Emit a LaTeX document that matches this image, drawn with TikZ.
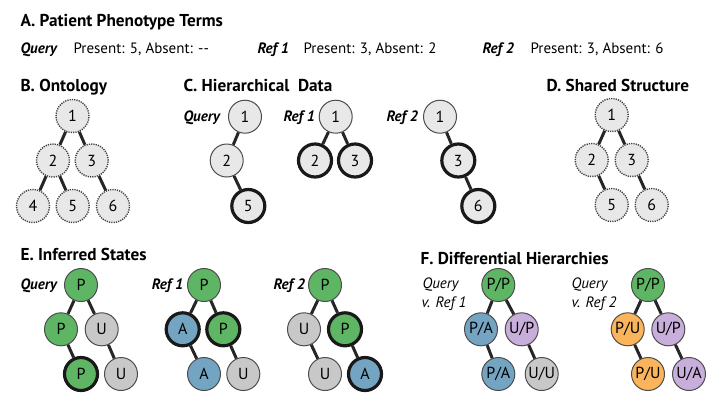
\documentclass[tikz,border=0pt]{standalone}
\usepackage{fontspec}
\setmainfont{PT Sans}
\usepackage{tikz}

\definecolor{presgreen}{RGB}{94,182,100}
\definecolor{absblue}{RGB}{115,164,194}
\definecolor{unkgray}{RGB}{200,200,200}
\definecolor{upurple}{RGB}{200,174,218}
\definecolor{puorange}{RGB}{249,180,92}
\definecolor{nodegray}{RGB}{232,232,232}

\tikzset{
  title/.style={anchor=base west, font=\fontsize{17.2}{19}\selectfont\bfseries},
  txt/.style={anchor=base west, font=\fontsize{15}{17}\selectfont},
  tag/.style={anchor=base west, font=\fontsize{15}{17}\selectfont\bfseries\itshape},
  vtag/.style={anchor=base west, font=\fontsize{15}{17}\selectfont\itshape},
  term/.style={circle, minimum size=33pt, inner sep=0pt, font=\fontsize{16}{18}\selectfont,
    draw=black!70, line width=1pt, fill=nodegray},
  onto/.style={term, draw=black!75, line width=1.4pt, dash pattern=on 1.2pt off 1.1pt},
  obs/.style={draw=black!90, line width=3.2pt},
  pres/.style={term, fill=presgreen},
  abs/.style={term, fill=absblue},
  unk/.style={term, fill=unkgray},
  up/.style={term, fill=upurple},
  pu/.style={term, fill=puorange},
  link/.style={line width=3pt, black!85}
}

\begin{document}
\begin{tikzpicture}[x=1pt,y=-1pt]
  \useasboundingbox (0,0) rectangle (708,392);

  % A
  \node[title] (ta) at (17,26) {A. Patient Phenotype Terms};
  \node[tag] (aq) at (17,53) {Query};
  \node[txt] (aqt) at (70,53) {Present: 5, Absent: {-}{-}};
  \node[tag] (ar1) at (254,53) {Ref 1};
  \node[txt] (ar1t) at (300,53) {Present: 3, Absent: 2};
  \node[tag] (ar2) at (479,53) {Ref 2};
  \node[txt] (ar2t) at (527,53) {Present: 3, Absent: 6};

  % B
  \node[title] (tb) at (17,91) {B. Ontology};
  \node[onto] (b1) at (72.5,116) {1};
  \node[onto] (b2) at (53,160.5) {2};
  \node[onto] (b3) at (91.7,160.5) {3};
  \node[onto] (b4) at (33,206) {4};
  \node[onto] (b5) at (72.7,206) {5};
  \node[onto] (b6) at (113,206) {6};
  \draw[link] (b1) -- (b2);
  \draw[link] (b1) -- (b3);
  \draw[link] (b2) -- (b4);
  \draw[link] (b2) -- (b5);
  \draw[link] (b3) -- (b6);

  % C
  \node[title] (tc) at (180,91) {C. Hierarchical\ \ Data};
  \node[tag] (cql) at (180,121.5) {Query};
  \node[term] (cq1) at (245,116.7) {1};
  \node[term] (cq2) at (226.7,160.5) {2};
  \node[term,obs] (cq5) at (248.3,206) {5};
  \draw[link] (cq1) -- (cq2);
  \draw[link] (cq2) -- (cq5);
  \node[tag] (cal) at (280,121.5) {Ref 1};
  \node[term] (ca1) at (335.7,116.7) {1};
  \node[term,obs] (ca2) at (315,160.5) {2};
  \node[term,obs] (ca3) at (355,160.5) {3};
  \draw[link] (ca1) -- (ca2);
  \draw[link] (ca1) -- (ca3);
  \node[tag] (cbl) at (383,121.5) {Ref 2};
  \node[term] (cb1) at (440,116.7) {1};
  \node[term,obs] (cb3) at (458.3,160.5) {3};
  \node[term,obs] (cb6) at (478.3,206) {6};
  \draw[link] (cb1) -- (cb3);
  \draw[link] (cb3) -- (cb6);

  % D
  \node[title] (td) at (543,91) {D. Shared Structure};
  \node[onto] (d1) at (611.7,115) {1};
  \node[onto] (d2) at (591.7,160) {2};
  \node[onto] (d3) at (631.7,160) {3};
  \node[onto] (d5) at (611.7,205) {5};
  \node[onto] (d6) at (651.7,205) {6};
  \draw[link] (d1) -- (d2);
  \draw[link] (d1) -- (d3);
  \draw[link] (d2) -- (d5);
  \draw[link] (d3) -- (d6);

  % E
  \node[title] (te) at (17,260.5) {E. Inferred States};
  \node[tag] (eql) at (17,289.5) {Query};
  \node[pres] (eq1) at (81,285) {P};
  \node[pres] (eq2) at (61,329.3) {P};
  \node[unk] (eq3) at (101.7,329.3) {U};
  \node[pres,obs] (eq5) at (81,374) {P};
  \node[unk] (eq6) at (121,374) {U};
  \draw[link] (eq1) -- (eq2);
  \draw[link] (eq1) -- (eq3);
  \draw[link] (eq2) -- (eq5);
  \draw[link] (eq3) -- (eq6);
  \node[tag] (eal) at (148.3,289.5) {Ref 1};
  \node[pres] (ea1) at (204,285) {P};
  \node[abs,obs] (ea2) at (182.7,329.3) {A};
  \node[pres,obs] (ea3) at (223.3,329.3) {P};
  \node[abs] (ea5) at (204,374) {A};
  \node[unk] (ea6) at (243.3,374) {U};
  \draw[link] (ea1) -- (ea2);
  \draw[link] (ea1) -- (ea3);
  \draw[link] (ea2) -- (ea5);
  \draw[link] (ea3) -- (ea6);
  \node[tag] (ebl) at (270,289.5) {Ref 2};
  \node[pres] (eb1) at (325,285) {P};
  \node[unk] (eb2) at (304,329.3) {U};
  \node[pres,obs] (eb3) at (345,329.3) {P};
  \node[unk] (eb5) at (325,374) {U};
  \node[abs,obs] (eb6) at (365,374) {A};
  \draw[link] (eb1) -- (eb2);
  \draw[link] (eb1) -- (eb3);
  \draw[link] (eb2) -- (eb5);
  \draw[link] (eb3) -- (eb6);

  % F
  \node[title] (tf) at (417,264) {F. Differential Hierarchies};
  \node[vtag] (fal) at (419,288.5) {Query};
  \node[vtag] (fal2) at (418,307.5) {v. Ref 1};
  \node[pres] (fa1) at (498.3,285) {P/P};
  \node[abs] (fa2) at (481,329.3) {P/A};
  \node[up] (fa3) at (521.7,329.3) {U/P};
  \node[abs] (fa5) at (498.3,374) {P/A};
  \node[unk] (fa6) at (541.7,374) {U/U};
  \draw[link] (fa1) -- (fa2);
  \draw[link] (fa1) -- (fa3);
  \draw[link] (fa2) -- (fa5);
  \draw[link] (fa3) -- (fa6);
  \node[vtag] (fbl) at (568,288.5) {Query};
  \node[vtag] (fbl2) at (568,307.5) {v. Ref 2};
  \node[pres] (fb1) at (648,285) {P/P};
  \node[pu] (fb2) at (627.7,329.3) {P/U};
  \node[up] (fb3) at (668.3,329.3) {U/P};
  \node[pu] (fb5) at (648,374) {P/U};
  \node[up] (fb6) at (689,374) {U/A};
  \draw[link] (fb1) -- (fb2);
  \draw[link] (fb1) -- (fb3);
  \draw[link] (fb2) -- (fb5);
  \draw[link] (fb3) -- (fb6);
\end{tikzpicture}
\end{document}
